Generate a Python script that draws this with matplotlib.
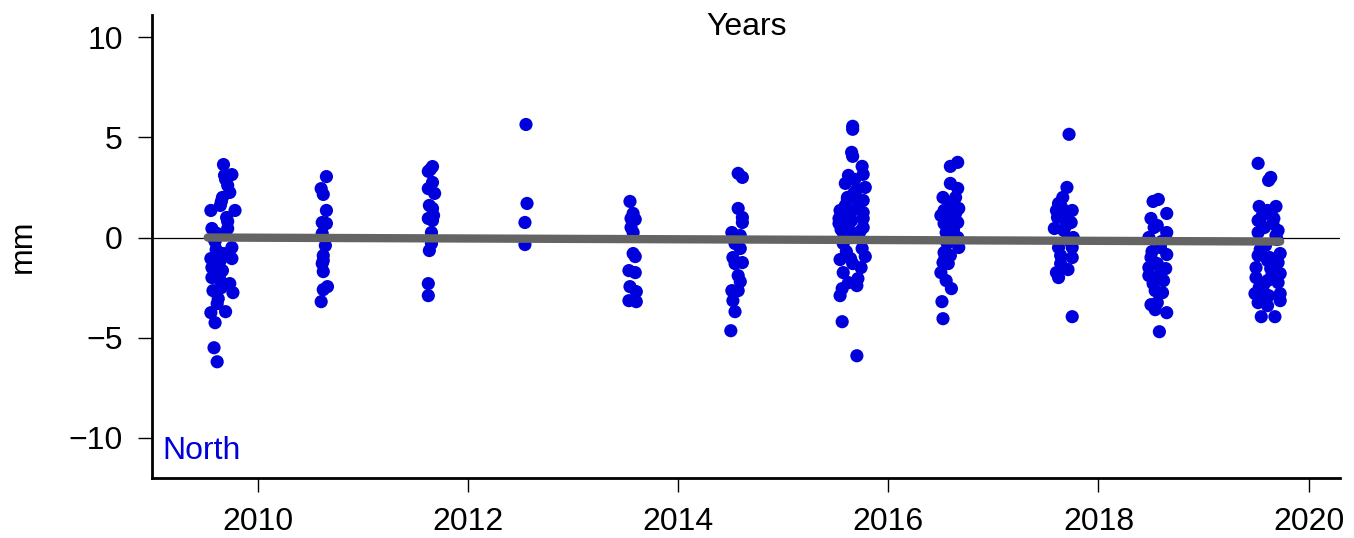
import matplotlib
matplotlib.use('Agg')
import matplotlib.pyplot as plt

plt.rcParams['font.family'] = ['Liberation Sans', 'DejaVu Sans']

# North component residuals (mm), read per campaign
yr_2009 = [2009.67, 2009.75, 2009.68, 2009.71, 2009.73, 2009.66, 2009.55, 2009.78, 2009.64, 2009.70,
           2009.56, 2009.71, 2009.61, 2009.75, 2009.55, 2009.64, 2009.75, 2009.56, 2009.66, 2009.56,
           2009.64, 2009.73, 2009.76, 2009.57, 2009.62, 2009.61, 2009.69, 2009.55, 2009.59, 2009.58,
           2009.61, 2009.65, 2009.69, 2009.59, 2009.67, 2009.63, 2009.71, 2009.57, 2009.65, 2009.60]
mm_2009 = [3.64, 3.14, 3.1, 2.6, 2.25, 2.0, 1.35, 1.35, 1.6, 1.0,
           0.45, 0.45, 0.2, -0.5, -1.05, -1.15, -1.05, -1.5, -1.65, -2.0,
           -2.15, -2.3, -2.75, -2.65, -3.05, -3.3, -3.7, -3.75, -4.25, -5.5,
           -6.2, 1.8, 2.9, -0.2, -0.8, -1.9, 0.8, 0.0, -2.5, -0.6]

yr_2010 = [2010.65, 2010.60, 2010.62, 2010.65, 2010.61, 2010.65, 2010.61, 2010.64,
           2010.62, 2010.62, 2010.61, 2010.62, 2010.66, 2010.62, 2010.60]
mm_2010 = [3.04, 2.44, 2.15, 1.35, 0.75, 0.7, 0.2, -0.4,
           -0.9, -1.15, -1.3, -1.7, -2.45, -2.6, -3.2]

yr_2011 = [2011.66, 2011.62, 2011.66, 2011.62, 2011.68, 2011.63, 2011.66, 2011.62,
           2011.66, 2011.65, 2011.65, 2011.63, 2011.62, 2011.62, 2011.64, 2011.67]
mm_2011 = [3.54, 3.3, 2.75, 2.44, 2.2, 1.6, 1.45, 0.95,
           0.85, 0.25, -0.3, -0.65, -2.3, -2.9, 3.4, 1.1]

yr_2012 = [2012.55, 2012.56, 2012.54, 2012.54]
mm_2012 = [5.64, 1.7, 0.75, -0.35]

yr_2013 = [2013.54, 2013.57, 2013.55, 2013.59, 2013.57, 2013.55, 2013.57, 2013.59,
           2013.53, 2013.59, 2013.54, 2013.60, 2013.53, 2013.60]
mm_2013 = [1.8, 1.2, 0.95, 0.9, 0.25, 0.5, -0.8, -0.95,
           -1.65, -1.75, -2.45, -2.7, -3.15, -3.2]

yr_2014 = [2014.57, 2014.61, 2014.57, 2014.61, 2014.61, 2014.51, 2014.59, 2014.54,
           2014.59, 2014.52, 2014.61, 2014.54, 2014.57, 2014.59, 2014.51, 2014.57,
           2014.52, 2014.54, 2014.50]
mm_2014 = [3.2, 3.0, 1.45, 1.0, 0.75, 0.25, 0.1, -0.3,
           -0.55, -1.0, -1.25, -1.3, -1.9, -2.2, -2.65, -2.65,
           -3.15, -3.7, -4.65]

yr_2015 = [2015.66, 2015.66, 2015.65, 2015.66, 2015.75, 2015.76, 2015.62, 2015.59,
           2015.78, 2015.70, 2015.61, 2015.76, 2015.54, 2015.66, 2015.76, 2015.53,
           2015.65, 2015.76, 2015.53, 2015.62, 2015.76, 2015.57, 2015.70, 2015.75,
           2015.78, 2015.54, 2015.64, 2015.66, 2015.57, 2015.71, 2015.62, 2015.70,
           2015.56, 2015.54, 2015.56, 2015.70, 2015.59, 2015.68, 2015.63, 2015.73,
           2015.57, 2015.65, 2015.72, 2015.60, 2015.67, 2015.55, 2015.74, 2015.61]
mm_2015 = [5.55, 5.4, 4.25, 4.05, 3.55, 3.15, 3.1, 2.7,
           2.5, 2.4, 2.0, 1.85, 1.35, 1.35, 1.25, 0.95,
           0.85, 0.95, 0.7, 0.6, 0.5, 0.25, 0.2, -0.55,
           -0.95, -1.1, -1.05, -1.3, -1.75, -2.05, -2.25, -2.4,
           -2.55, -2.9, -4.2, -5.9, 1.6, 2.9, 1.1, 0.3,
           -0.3, 0.0, 1.7, -0.7, 2.2, 0.4, -1.5, 1.9]

yr_2016 = [2016.66, 2016.59, 2016.59, 2016.66, 2016.52, 2016.64, 2016.57, 2016.53,
           2016.67, 2016.50, 2016.61, 2016.53, 2016.66, 2016.55, 2016.66, 2016.67,
           2016.53, 2016.59, 2016.52, 2016.57, 2016.50, 2016.55, 2016.60, 2016.51,
           2016.52, 2016.62, 2016.56, 2016.64, 2016.58, 2016.54]
mm_2016 = [3.75, 3.55, 2.7, 2.45, 2.0, 2.0, 1.7, 1.35,
           1.45, 1.1, 1.0, 0.7, 0.75, 0.25, 0.0, -0.5,
           -0.75, -0.9, -1.25, -1.3, -1.75, -2.15, -2.55, -3.2,
           -4.05, 0.4, -0.3, 1.2, 0.9, -1.0]

yr_2017 = [2017.72, 2017.70, 2017.66, 2017.62, 2017.75, 2017.60, 2017.67, 2017.74,
           2017.58, 2017.67, 2017.76, 2017.62, 2017.75, 2017.75, 2017.64, 2017.71,
           2017.60, 2017.62, 2017.75, 2017.65, 2017.69, 2017.61, 2017.73, 2017.64]
mm_2017 = [5.15, 2.5, 2.0, 1.7, 1.35, 1.35, 1.0, 0.75,
           0.45, 0.35, 0.0, -0.5, -0.5, -1.0, -1.3, -1.6,
           -1.75, -2.0, -3.95, 1.5, 0.6, 1.0, -0.2, -0.9]

yr_2018 = [2018.52, 2018.57, 2018.65, 2018.50, 2018.56, 2018.65, 2018.48, 2018.59,
           2018.65, 2018.50, 2018.56, 2018.48, 2018.64, 2018.48, 2018.62, 2018.52,
           2018.54, 2018.61, 2018.50, 2018.56, 2018.54, 2018.65, 2018.58, 2018.53,
           2018.60, 2018.51, 2018.59, 2018.55]
mm_2018 = [1.8, 1.9, 1.2, 0.95, 0.6, 0.25, 0.0, -0.5,
           -0.85, -1.0, -1.3, -1.5, -1.55, -1.9, -2.15, -2.3,
           -2.65, -2.75, -3.35, -3.25, -3.6, -3.75, -4.7, 0.5,
           -0.2, -0.7, -1.8, -2.0]

yr_2019 = [2019.52, 2019.62, 2019.64, 2019.53, 2019.69, 2019.61, 2019.52, 2019.67,
           2019.58, 2019.71, 2019.52, 2019.52, 2019.73, 2019.61, 2019.71, 2019.50,
           2019.64, 2019.73, 2019.50, 2019.61, 2019.71, 2019.53, 2019.73, 2019.49,
           2019.62, 2019.73, 2019.52, 2019.61, 2019.55, 2019.68, 2019.56, 2019.66,
           2019.59, 2019.70, 2019.54, 2019.65, 2019.57, 2019.69, 2019.60, 2019.63]
mm_2019 = [3.7, 2.85, 3.0, 1.55, 1.55, 1.35, 0.85, 0.95,
           0.5, 0.35, 0.25, -0.9, -0.8, -1.15, -1.25, -1.5,
           -1.55, -1.8, -2.0, -2.15, -2.25, -2.5, -2.8, -2.8,
           -2.9, -3.15, -3.25, -3.4, -3.95, -3.95, 1.1, 0.7,
           -0.4, -0.1, -0.6, -1.9, -2.4, 0.1, -3.0, -1.0]

years = (yr_2009 + yr_2010 + yr_2011 + yr_2012 + yr_2013 + yr_2014 + yr_2015 +
         yr_2016 + yr_2017 + yr_2018 + yr_2019)
north = (mm_2009 + mm_2010 + mm_2011 + mm_2012 + mm_2013 + mm_2014 + mm_2015 +
         mm_2016 + mm_2017 + mm_2018 + mm_2019)

# linear trend endpoints
trend_years = [2009.52, 2019.73]
trend_mm = [0.0, -0.2]

fs = 23
fig = plt.figure(figsize=(13.54, 5.38), dpi=100)
ax = fig.add_axes([0.1123, 0.1115, 0.8774, 0.8605])

ax.axhline(0, color='black', lw=0.9, zorder=1)
ax.scatter(years, north, s=90, color='#0000dd', edgecolors='none', zorder=2)
ax.plot(trend_years, trend_mm, color='#646464', lw=6, solid_capstyle='round', zorder=3)

ax.set_xlim(2008.99, 2020.30)
ax.set_ylim(-12.0, 11.1)
ax.set_xticks([2010, 2012, 2014, 2016, 2018, 2020])
ax.set_yticks([-10, -5, 0, 5, 10])
ax.tick_params(labelsize=fs, direction='out', length=10, width=1, pad=11)
ax.spines['top'].set_visible(False)
ax.spines['right'].set_visible(False)
ax.spines['left'].set_linewidth(2)
ax.spines['bottom'].set_linewidth(2)
ax.set_ylabel('mm', fontsize=fs, labelpad=22)

ax.text(0.009, 0.025, 'North', color='#0000dd', fontsize=fs, transform=ax.transAxes,
        ha='left', va='bottom')
fig.text(0.5516, 0.950, 'Years', fontsize=fs, ha='center', va='center')

fig.savefig('out.png', dpi=100)
